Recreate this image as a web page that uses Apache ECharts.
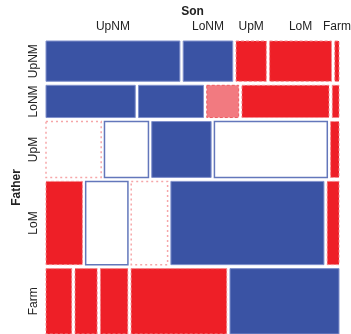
<!DOCTYPE html>
<html>
<head>
<meta charset="utf-8">
<script src="https://cdn.jsdelivr.net/npm/echarts@6/dist/echarts.min.js"></script>
<style>html,body{margin:0;padding:0;background:#fff}#c{width:351px;height:334px}</style>
</head>
<body>
<div id="c"></div>
<script>
// Categories
const sonCats = ['UpNM', 'LoNM', 'UpM', 'LoM', 'Farm'];
const fatherCats = ['UpNM', 'LoNM', 'UpM', 'LoM', 'Farm'];
// Father marginal shares (row heights)
const fatherShare = [0.1455, 0.1164, 0.2017, 0.3004, 0.2360];
// Son conditional shares within each father row
const sonGivenUpNM = [0.478, 0.177, 0.108, 0.221, 0.015];
const sonGivenLoNM = [0.319, 0.232, 0.114, 0.311, 0.024];
const sonGivenUpM  = [0.197, 0.157, 0.212, 0.403, 0.030];
const sonGivenLoM  = [0.130, 0.151, 0.130, 0.547, 0.042];
const sonGivenFarm = [0.092, 0.079, 0.098, 0.342, 0.390];
// Residual shading levels (+4 strong pos, +1 weak pos, -1 weak neg, -2 moderate neg, -4 strong neg)
const resUpNM = [4, 4, -4, -4, -4];
const resLoNM = [4, 4, -2, -4, -4];
const resUpM  = [-1, 1, 4, 1, -4];
const resLoM  = [-4, 1, -1, 4, -4];
const resFarm = [-4, -4, -4, -4, 4];

const sonShares = [sonGivenUpNM, sonGivenLoNM, sonGivenUpM, sonGivenLoM, sonGivenFarm].map(r => {
  const s = r.reduce((a, b) => a + b, 0); return r.map(v => v / s);
});
const fs = (() => { const s = fatherShare.reduce((a, b) => a + b, 0); return fatherShare.map(v => v / s); })();
const residuals = [resUpNM, resLoNM, resUpM, resLoM, resFarm];

const gx = 0.0118, gy = 0.0144;
const xMax = 1 + 4 * gx, yMax = 1 + 4 * gy;

function rowSpan(r) {
  let y0 = r * gy; for (let i = 0; i < r; i++) y0 += fs[i];
  return [y0, y0 + fs[r]];
}
function colSpan(r, c) {
  let x0 = c * gx; for (let i = 0; i < c; i++) x0 += sonShares[r][i];
  return [x0, x0 + sonShares[r][c]];
}

const styles = {
  '4':  { fill: '#3a53a4', stroke: '#8191cc', lineWidth: 1, lineDash: null },
  '1':  { fill: '#ffffff', stroke: '#6377bb', lineWidth: 1.5, lineDash: null },
  '-1': { fill: '#ffffff', stroke: '#f6a6a9', lineWidth: 1.5, lineDash: [2, 3] },
  '-2': { fill: '#f27a80', stroke: '#ee5a60', lineWidth: 1, lineDash: [3, 2] },
  '-4': { fill: '#ee1f27', stroke: '#f5868b', lineWidth: 1, lineDash: [3, 2] }
};

const cells = [];
for (let r = 0; r < 5; r++) for (let c = 0; c < 5; c++) cells.push([r, c, residuals[r][c]]);

const colLabelData = sonCats.map((s, i) => [i]);
const rowLabelData = fatherCats.map((s, i) => [i]);

const chart = echarts.init(document.getElementById('c'), null, { renderer: 'canvas' });
chart.setOption({
  backgroundColor: '#ffffff',
  animation: false,
  grid: { left: 46, right: 12, top: 41, bottom: -1 },
  xAxis: {
    type: 'value', position: 'top', min: 0, max: xMax,
    axisLine: { show: false }, axisTick: { show: false }, axisLabel: { show: false }, splitLine: { show: false },
    name: 'Son', nameLocation: 'middle', nameGap: 23,
    nameTextStyle: { fontFamily: 'Liberation Sans', fontSize: 12, fontWeight: 'bold', color: '#222' }
  },
  yAxis: {
    type: 'value', inverse: true, min: 0, max: yMax,
    axisLine: { show: false }, axisTick: { show: false }, axisLabel: { show: false }, splitLine: { show: false },
    name: 'Father', nameLocation: 'middle', nameGap: 23, nameRotate: 90,
    nameTextStyle: { fontFamily: 'Liberation Sans', fontSize: 12, fontWeight: 'bold', color: '#222' }
  },
  series: [
    {
      type: 'custom',
      data: cells,
      renderItem: function (params, api) {
        const r = api.value(0), c = api.value(1), lv = api.value(2);
        const ys = rowSpan(r), xs = colSpan(r, c);
        const p0 = api.coord([xs[0], ys[0]]), p1 = api.coord([xs[1], ys[1]]);
        const st = styles[String(lv)];
        return {
          type: 'rect',
          shape: { x: p0[0], y: p0[1], width: p1[0] - p0[0], height: p1[1] - p0[1] },
          style: { fill: st.fill, stroke: st.stroke, lineWidth: st.lineWidth, lineDash: st.lineDash }
        };
      }
    },
    {
      type: 'custom',
      data: colLabelData,
      clip: false,
      renderItem: function (params, api) {
        const c = api.value(0);
        const xs = colSpan(0, c);
        const p = api.coord([(xs[0] + xs[1]) / 2, 0]);
        return {
          type: 'text',
          x: p[0], y: p[1] - 14,
          style: { text: sonCats[c], fontFamily: 'Liberation Sans', fontSize: 12, fill: '#222', align: 'center', verticalAlign: 'middle' }
        };
      }
    },
    {
      type: 'custom',
      data: rowLabelData,
      clip: false,
      renderItem: function (params, api) {
        const r = api.value(0);
        const ys = rowSpan(r);
        const p = api.coord([0, (ys[0] + ys[1]) / 2]);
        return {
          type: 'text',
          x: p[0] - 12, y: p[1], rotation: Math.PI / 2,
          style: { text: fatherCats[r], fontFamily: 'Liberation Sans', fontSize: 12, fill: '#222', align: 'center', verticalAlign: 'middle' }
        };
      }
    }
  ]
});
</script>
</body>
</html>
